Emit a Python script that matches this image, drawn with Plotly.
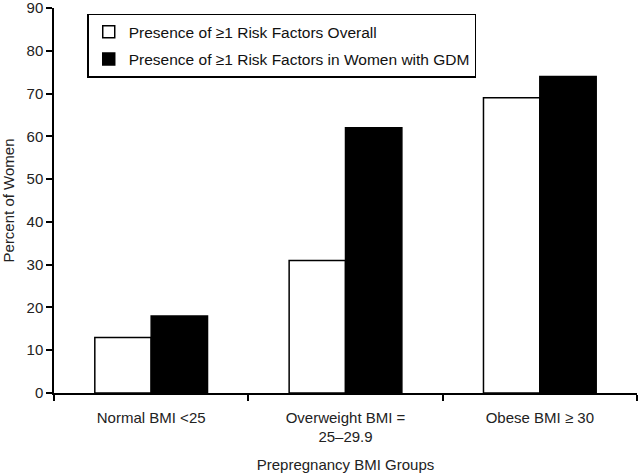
import plotly.graph_objects as go

categories = ["Normal BMI <25", "Overweight BMI =<br>25–29.9", "Obese BMI ≥ 30"]
overall = [13, 31, 69]
gdm = [18, 62, 74]
series_names = ["Presence of ≥1 Risk Factors Overall",
                "Presence of ≥1 Risk Factors in Women with GDM"]

fig = go.Figure()
fig.add_trace(go.Bar(x=categories, y=overall, name=series_names[0], legendgroup="a",
                     marker=dict(color="white", line=dict(color="black", width=1.5))))
fig.add_trace(go.Bar(x=categories, y=gdm, name=series_names[1], legendgroup="b",
                     marker=dict(color="black", line=dict(color="black", width=1.5))))

fam = "Liberation Sans, Arial, sans-serif"
font = dict(family=fam, size=15, color="#222")
fig.update_layout(
    width=640, height=474,
    margin=dict(l=54, r=3, t=8, b=81),
    plot_bgcolor="white", paper_bgcolor="white",
    barmode="group", bargap=0.42, bargroupgap=0,
    font=font,
    showlegend=True,
    legend=dict(x=0.057, y=0.985, xanchor="left", yanchor="top",
                bordercolor="black", borderwidth=1.5, bgcolor="white",
                font=dict(family=fam, size=15.5, color="#111"),
                tracegroupgap=4, itemwidth=30),
    xaxis=dict(showline=True, linecolor="black", linewidth=1.5, automargin=False,
               ticks="outside", tickson="boundaries", ticklen=6, tickcolor="black", tickwidth=1.5,
               ticklabelstandoff=10,
               title=dict(text="Prepregnancy BMI Groups", font=font),
               showgrid=False, zeroline=False),
    yaxis=dict(range=[0, 90], dtick=10, showline=True, linecolor="black", linewidth=1.5,
               automargin=False, ticklabeloverflow="allow",
               ticks="outside", ticklen=6, tickcolor="black", tickwidth=1.5,
               title=dict(text="Percent of Women", font=font),
               showgrid=False, zeroline=False),
)
fig.write_html("out.html", config={"displayModeBar": False},
               post_script="document.body.style.margin='0';")
